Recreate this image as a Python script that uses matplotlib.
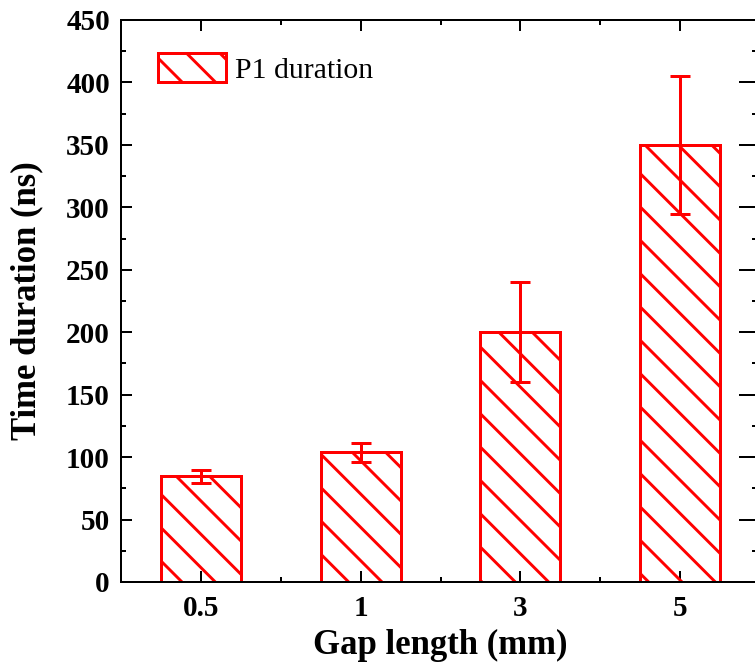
import matplotlib
matplotlib.use("Agg")
import matplotlib.pyplot as plt
from matplotlib.ticker import MultipleLocator, FixedLocator
import numpy as np

categories = ['0.5', '1', '3', '5']
values = [84.5, 104, 200, 350]
errors = [5, 7.6, 40, 55.5]

DPI = 100
plt.rcParams['hatch.linewidth'] = 2.1
plt.rcParams['font.family'] = ['Liberation Serif', 'DejaVu Serif']

fig = plt.figure(figsize=(755 / DPI, 671 / DPI), dpi=DPI)
ax = fig.add_axes([121 / 755, 89 / 671, 639 / 755, 562 / 671])

x = np.arange(len(categories))
red = '#ff0000'
ax.bar(x, values, width=0.5, color='none', edgecolor=red, hatch='\\',
       linewidth=2.16, label='P1 duration', zorder=2)
ax.errorbar(x, values, yerr=errors, fmt='none', ecolor=red, elinewidth=2.16,
            capsize=6.9, capthick=2.16, zorder=3)

ax.set_xlim(-0.5, 3.5)
ax.set_ylim(0, 450)
ax.yaxis.set_major_locator(MultipleLocator(50))
ax.yaxis.set_minor_locator(MultipleLocator(25))
ax.set_xticks(x)
ax.set_xticklabels(categories)
ax.xaxis.set_minor_locator(FixedLocator([0.5, 1.5, 2.5]))

for sp in ax.spines.values():
    sp.set_linewidth(1.44)

ax.tick_params(axis='both', which='major', direction='in', length=7.7, width=1.44,
               labelsize=21, top=True, right=True)
ax.tick_params(axis='both', which='minor', direction='in', length=3.85, width=1.44,
               top=True, right=True)
ax.tick_params(axis='x', which='major', pad=9.0)
ax.tick_params(axis='y', which='major', pad=8)
# longer inward ticks on the (cropped) right spine
for t in ax.yaxis.get_major_ticks():
    t.tick2line.set_markersize(15)
for t in ax.yaxis.get_minor_ticks():
    t.tick2line.set_markersize(5.8)
for lab in ax.get_xticklabels() + ax.get_yticklabels():
    lab.set_fontweight('bold')

ax.set_xlabel('Gap length (mm)', fontsize=25, fontweight='bold', labelpad=5.5)
ax.set_ylabel('Time duration (ns)', fontsize=25, fontweight='bold')
ax.yaxis.set_label_coords(-0.122, 0.5)

leg = ax.legend(loc='upper left', bbox_to_anchor=(37 / 639, 1 - 33 / 562),
                frameon=False, prop={'family': 'Liberation Serif', 'size': 21.4},
                handlelength=2.3, handleheight=1.12, handletextpad=0.3,
                borderaxespad=0, borderpad=0)

fig.savefig('out.png', dpi=DPI)
